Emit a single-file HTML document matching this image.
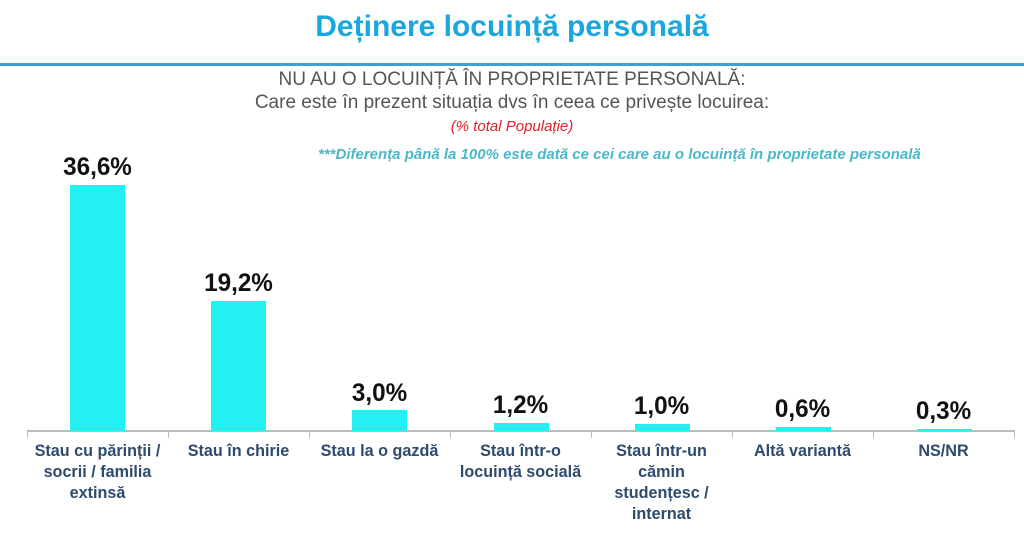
<!DOCTYPE html>
<html><head><meta charset="utf-8"><style>
body{margin:0;width:1024px;height:548px;background:#fff;position:relative;overflow:hidden;font-family:"Liberation Sans",sans-serif}
.a{position:absolute;white-space:nowrap}
.t{left:0;width:1024px;text-align:center}
.bar{position:absolute;background:#22f0f2;width:55px}
.v{position:absolute;width:141px;text-align:center;font-weight:bold;font-size:25px;color:#111;transform:scaleX(0.97)}
.c{position:absolute;top:441px;width:141px;text-align:center;font-weight:bold;font-size:16.5px;line-height:21px;color:#2e4a6e;transform:scaleX(0.98);white-space:nowrap}
.tk{position:absolute;top:431px;width:1px;height:7px;background:#bbb}
</style></head><body>
<div class="a t" style="top:10px;font-weight:bold;font-size:30px;color:#1aa7df">Deținere locuință personală</div>
<div class="a" style="left:0;top:63px;width:1024px;height:3px;background:#3aa5cc"></div>
<div class="a t" style="top:69px;font-size:19px;color:#555">NU AU O LOCUINȚĂ ÎN PROPRIETATE PERSONALĂ:</div>
<div class="a t" style="top:92px;font-size:19px;color:#555">Care este în prezent situația dvs în ceea ce privește locuirea:</div>
<div class="a t" style="top:118px;font-size:15px;font-style:italic;color:#e0202a">(% total Populație)</div>
<div class="a" style="left:318px;top:146px;font-size:15px;font-style:italic;font-weight:bold;color:#4bb8c8">***Diferența până la 100% este dată ce cei care au o locuință în proprietate personală</div>
<div class="a" style="left:27px;top:430px;width:988px;height:2px;background:#bbb"></div>
<div class="tk" style="left:27px"></div><div class="tk" style="left:168px"></div><div class="tk" style="left:309px"></div><div class="tk" style="left:450px"></div><div class="tk" style="left:591px"></div><div class="tk" style="left:732px"></div><div class="tk" style="left:873px"></div><div class="tk" style="left:1014px"></div>
<div class="bar" style="left:70px;top:185px;height:246px"></div>
<div class="bar" style="left:211px;top:301px;height:130px"></div>
<div class="bar" style="left:352px;top:410px;height:21px"></div>
<div class="bar" style="left:494px;top:423px;height:8px"></div>
<div class="bar" style="left:635px;top:424px;height:7px"></div>
<div class="bar" style="left:776px;top:427px;height:4px"></div>
<div class="bar" style="left:917px;top:429px;height:2px"></div>
<div class="v" style="left:27px;top:153px">36,6%</div>
<div class="v" style="left:168px;top:269px">19,2%</div>
<div class="v" style="left:309px;top:379px">3,0%</div>
<div class="v" style="left:450px;top:391px">1,2%</div>
<div class="v" style="left:591px;top:392px">1,0%</div>
<div class="v" style="left:732px;top:395px">0,6%</div>
<div class="v" style="left:873px;top:397px">0,3%</div>
<div class="c" style="left:27px">Stau cu părinții /<br>socrii / familia<br>extinsă</div>
<div class="c" style="left:168px">Stau în chirie</div>
<div class="c" style="left:309px">Stau la o gazdă</div>
<div class="c" style="left:450px">Stau într-o<br>locuință socială</div>
<div class="c" style="left:591px">Stau într-un<br>cămin<br>studențesc /<br>internat</div>
<div class="c" style="left:732px">Altă variantă</div>
<div class="c" style="left:873px">NS/NR</div>
</body></html>
